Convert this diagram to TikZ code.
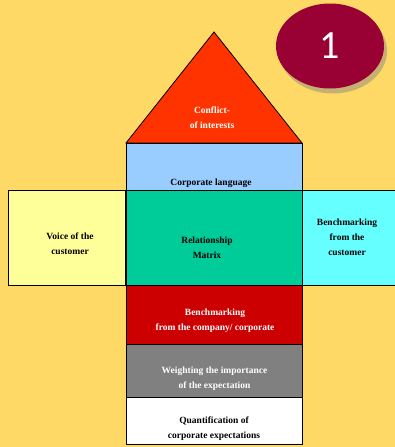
\documentclass[tikz,border=0pt]{standalone}
\usepackage{fontspec}
\setmainfont{Liberation Serif}
\newfontfamily\numfont{Carlito}
\usetikzlibrary{shapes.geometric,shadows,positioning}
\definecolor{housebg}{RGB}{255,217,102}
\definecolor{roofred}{RGB}{255,51,0}
\definecolor{langblue}{RGB}{153,204,255}
\definecolor{matrixgreen}{RGB}{0,204,153}
\definecolor{voiceyellow}{RGB}{255,255,153}
\definecolor{benchcyan}{RGB}{102,255,255}
\definecolor{compred}{RGB}{204,0,0}
\definecolor{weightgray}{RGB}{128,128,128}
\definecolor{badgered}{RGB}{153,0,51}
\tikzset{
  room/.style={draw=black,thick,rectangle,inner sep=0pt},
  roomtext/.style={align=center,font=\bfseries\fontsize{9.5}{15}\selectfont,inner sep=0pt}
}

\begin{document}
\begin{tikzpicture}[x=1pt,y=-1pt]
		\fill[housebg] (0,0) rectangle (395,447);
		\useasboundingbox (0,0) rectangle (395,447);
		
		%roof
		\draw[thick,fill=roofred] (126,143) -- (214,32) -- (302,143) -- cycle;
		\node[roomtext,text=white] (conflict) at (212,118) {Conflict-\\of interests};
		
		\node[room,fill=langblue,minimum width=176pt,minimum height=47pt] (lang) at (214,166.5) {};
		\node[roomtext] (langtext) at (211,183) {Corporate language};
		
		\node[room,fill=voiceyellow,minimum width=117pt,minimum height=95pt] (voice) at (66.5,237.5) {};
		\node[room,fill=benchcyan,minimum width=100pt,minimum height=95pt] (custbench) at (352,237.5) {};
		\node[room,fill=matrixgreen,minimum width=176pt,minimum height=95pt] (matrix) at (214,237.5) {};
		\node[roomtext] (voicetext) at (70,243.5) {Voice of the\\customer};
		\node[roomtext] (matrixtext) at (207,248) {Relationship\\Matrix};
		\node[roomtext] (custbenchtext) at (347,237) {Benchmarking\\from the\\customer};
		
		\node[room,fill=compred,minimum width=176pt,minimum height=59pt] (compbench) at (214,314.5) {};
		\node[roomtext,text=white] (compbenchtext) at (215,321) {Benchmarking\\from the company/ corporate};
		
		\node[room,fill=weightgray,minimum width=176pt,minimum height=53pt] (weight) at (214,370.5) {};
		\node[roomtext,text=white] (weighttext) at (214.5,379) {Weighting the importance\\of the expectation};
		
		\node[room,fill=white,minimum width=176pt,minimum height=47pt] (quant) at (214,420.5) {};
		\node[roomtext] (quanttext) at (214,429) {Quantification of\\corporate expectations};
		
		%badge
		\node[ellipse,fill=badgered,minimum width=108pt,minimum height=85pt,drop shadow={opacity=0.45,shadow xshift=3pt,shadow yshift=-5pt},text=white,font=\numfont\fontsize{40}{40}\selectfont] (badge) at (330,46) {1};
		
		\end{tikzpicture}
\end{document}
